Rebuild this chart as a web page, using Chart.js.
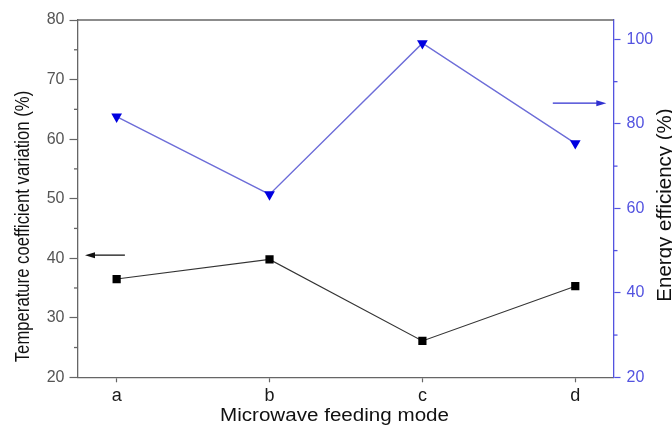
<!DOCTYPE html>
<html>
<head>
<meta charset="utf-8">
<script src="https://cdn.jsdelivr.net/npm/chart.js@4.4.1/dist/chart.umd.min.js"></script>
<style>
  html, body { margin: 0; padding: 0; background: #fff; }
  #wrap { width: 672px; height: 426px; }
</style>
</head>
<body>
<div id="wrap"><canvas id="chart" width="672" height="426"></canvas></div>
<script>
"use strict";

// categories on the x axis
const modes = ["a", "b", "c", "d"];
// left axis: temperature coefficient variation (%)
const tempCV = [36.5, 39.8, 26.1, 35.3];
// right axis: energy efficiency (%)
const energyEff = [81.7, 63.3, 99.1, 75.4];

const leftTicks = [20, 30, 40, 50, 60, 70, 80];
const rightTicks = [20, 40, 60, 80, 100];
const leftMinor = [25, 35, 45, 55, 65, 75];
const rightMinor = [30, 50, 70, 90];

// arrows pointing at the axis each series belongs to: [xFrom, xTo, y]
const leftArrow = [0.054, -0.207, 40.5];
const rightArrow = [2.853, 3.203, 84.9];

const FONT = "'Liberation Sans', Arial, sans-serif";
const GREY = "#666";
const AXIS_BLUE = "#5353e0";

const toPoints = (vals) => vals.map((v, i) => ({ x: i, y: v }));

// axis titles, minor ticks, top frame and the two arrows
const decorations = {
  id: "decorations",
  afterDraw(chart) {
    const ctx = chart.ctx;
    const { left, right, top } = chart.chartArea;
    const sx = chart.scales.x;
    const sy = chart.scales.y;
    const sy1 = chart.scales.y1;
    ctx.save();

    // top frame line
    ctx.strokeStyle = GREY;
    ctx.lineWidth = 1.3;
    ctx.beginPath();
    ctx.moveTo(left, top);
    ctx.lineTo(right, top);
    ctx.stroke();

    // minor ticks
    leftMinor.forEach((v) => {
      const y = sy.getPixelForValue(v);
      ctx.beginPath();
      ctx.moveTo(left, y);
      ctx.lineTo(left - 3.5, y);
      ctx.stroke();
    });
    ctx.strokeStyle = AXIS_BLUE;
    rightMinor.forEach((v) => {
      const y = sy1.getPixelForValue(v);
      ctx.beginPath();
      ctx.moveTo(right, y);
      ctx.lineTo(right + 4, y);
      ctx.stroke();
    });

    // arrows
    const arrow = (x0, x1, y, color) => {
      ctx.strokeStyle = color;
      ctx.fillStyle = color;
      ctx.lineWidth = 1.2;
      const dir = Math.sign(x1 - x0);
      ctx.beginPath();
      ctx.moveTo(x0, y);
      ctx.lineTo(x1 - dir * 6, y);
      ctx.stroke();
      ctx.beginPath();
      ctx.moveTo(x1, y);
      ctx.lineTo(x1 - dir * 10, y - 3);
      ctx.lineTo(x1 - dir * 10, y + 3);
      ctx.closePath();
      ctx.fill();
    };
    arrow(sx.getPixelForValue(leftArrow[0]), sx.getPixelForValue(leftArrow[1]),
      sy.getPixelForValue(leftArrow[2]), "#111");
    arrow(sx.getPixelForValue(rightArrow[0]), sx.getPixelForValue(rightArrow[1]),
      sy1.getPixelForValue(rightArrow[2]), "#2f2fd0");

    // axis titles
    ctx.fillStyle = "#111";
    ctx.textAlign = "center";
    ctx.textBaseline = "alphabetic";

    ctx.save();
    ctx.font = "16.7px " + FONT;
    ctx.translate(29, 226.5);
    ctx.rotate(-Math.PI / 2);
    ctx.scale(1, 1.2); // source figure is stretched sideways
    ctx.fillText("Temperature coefficient variation (%)", 0, 0);
    ctx.restore();

    ctx.save();
    ctx.font = "20.5px " + FONT;
    ctx.translate(670.5, 205);
    ctx.rotate(-Math.PI / 2);
    ctx.fillText("Energy efficiency (%)", 0, 0);
    ctx.restore();

    ctx.save();
    ctx.font = "17.5px " + FONT;
    const label = "Microwave feeding mode";
    const w = ctx.measureText(label).width;
    ctx.translate(334.5, 421);
    ctx.scale(229 / w, 1);
    ctx.fillText(label, 0, 0);
    ctx.restore();

    ctx.restore();
  },
};

const config = {
  type: "line",
  data: {
    datasets: [
      {
        label: "Temperature coefficient variation",
        data: toPoints(tempCV),
        yAxisID: "y",
        borderColor: "#333",
        borderWidth: 1.1,
        pointStyle: "rect",
        pointRadius: 5.8,
        pointBackgroundColor: "#000",
        pointBorderWidth: 0,
      },
      {
        label: "Energy efficiency",
        data: toPoints(energyEff),
        yAxisID: "y1",
        borderColor: "#6d6dd8",
        borderWidth: 1.4,
        pointStyle: "triangle",
        rotation: 180,
        pointRadius: 6.2,
        pointBackgroundColor: "#0000e0",
        pointBorderWidth: 0,
      },
    ],
  },
  options: {
    responsive: false,
    animation: false,
    layout: { padding: { left: 0, right: 0, top: 20, bottom: 0 } },
    plugins: { legend: { display: false }, tooltip: { enabled: false } },
    scales: {
      x: {
        type: "linear",
        min: -0.256,
        max: 3.25,
        afterBuildTicks: (s) => { s.ticks = modes.map((m, i) => ({ value: i })); },
        afterFit: (s) => { s.height = 48.7; },
        ticks: {
          callback: (v) => modes[v] ?? "",
          color: "#1a1a1a",
          font: { family: FONT, size: 18 },
          padding: 3,
          maxRotation: 0,
        },
        grid: { drawOnChartArea: false, tickLength: 5, tickColor: GREY, tickWidth: 1.2 },
        border: { color: GREY, width: 1.3 },
      },
      y: {
        position: "left",
        min: 20,
        max: 80,
        afterBuildTicks: (s) => { s.ticks = leftTicks.map((v) => ({ value: v })); },
        afterFit: (s) => { s.width = 77.5; },
        ticks: { color: "#555", font: { family: FONT, size: 16 }, padding: 5 },
        grid: { drawOnChartArea: false, tickLength: 8, tickColor: GREY, tickWidth: 1.2 },
        border: { color: GREY, width: 1.3 },
      },
      y1: {
        position: "right",
        min: 20,
        max: 104.6,
        afterBuildTicks: (s) => { s.ticks = rightTicks.map((v) => ({ value: v })); },
        afterFit: (s) => { s.width = 58.5; },
        ticks: { color: AXIS_BLUE, font: { family: FONT, size: 16 }, padding: 6 },
        grid: { drawOnChartArea: false, tickLength: 7, tickColor: AXIS_BLUE, tickWidth: 1.2 },
        border: { color: AXIS_BLUE, width: 1.3 },
      },
    },
  },
  plugins: [decorations],
};

const myChart = new Chart(document.getElementById("chart"), config);
</script>
</body>
</html>
